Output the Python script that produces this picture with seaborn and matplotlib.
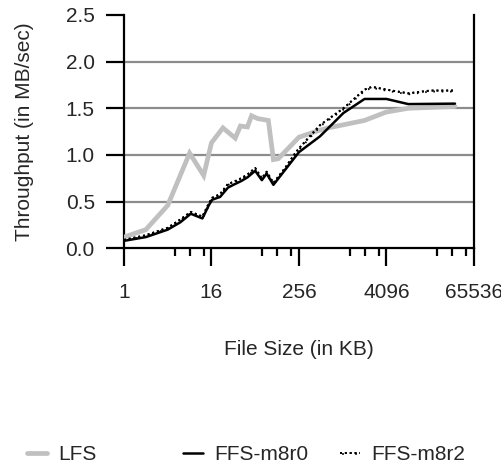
import matplotlib
matplotlib.use("Agg")
import matplotlib.pyplot as plt
import matplotlib.patheffects as pe
from matplotlib.lines import Line2D
import numpy as np
import pandas as pd
import seaborn as sns

# File sizes (KB) and measured throughput (MB/sec)
lfs_size = [1, 2, 4, 8, 12.5, 16, 23, 34, 40, 50, 57, 69, 97, 114, 133, 256,
            470, 650, 2048, 4096, 8192, 36000]
lfs_tput = [0.12, 0.20, 0.46, 1.02, 0.78, 1.13, 1.29, 1.18, 1.31, 1.30, 1.42,
            1.39, 1.37, 0.95, 0.96, 1.19, 1.26, 1.29, 1.37, 1.46, 1.50, 1.52]

m8r0_size = [1, 2, 4, 6, 8.3, 12, 14.7, 16.3, 21, 27, 32, 41, 50, 64, 79, 92,
             114, 165, 228, 256, 500, 1050, 2048, 4096, 8192, 36000]
m8r0_tput = [0.08, 0.12, 0.20, 0.28, 0.37, 0.32, 0.46, 0.52, 0.55, 0.65, 0.68,
             0.72, 0.76, 0.83, 0.73, 0.80, 0.68, 0.84, 0.98, 1.03, 1.20, 1.45,
             1.60, 1.60, 1.545, 1.55]

m8r2_size = [1, 2, 4, 6, 8.3, 12, 14.7, 16.3, 21, 27, 32, 41, 50, 64, 79, 92,
             114, 165, 228, 256, 500, 1050, 2048, 2600, 4096, 8192, 16384, 36000]
m8r2_tput = [0.09, 0.14, 0.22, 0.31, 0.39, 0.34, 0.48, 0.54, 0.58, 0.69, 0.71,
             0.75, 0.79, 0.86, 0.75, 0.82, 0.70, 0.86, 1.02, 1.07, 1.32, 1.50,
             1.70, 1.73, 1.70, 1.66, 1.69, 1.69]

x_major = [1, 16, 256, 4096, 65536]
x_minor_mult = [5, 8, 12.5]
y_ticks = [0.0, 0.5, 1.0, 1.5, 2.0, 2.5]

FS = 15

sns.set_theme(style="white")
plt.rcParams["font.family"] = ["Liberation Sans", "DejaVu Sans"]
plt.rcParams["font.size"] = FS

fig = plt.figure(figsize=(5.02, 4.69), dpi=100)
ax = fig.add_axes([0.247, 0.4706, 0.697, 0.4975])

gray = "#c0c0c0"


def ticked(spacing):
    return [pe.withTickedStroke(angle=-90, spacing=spacing, length=0.45,
                                linewidth=1.1),
            pe.Normal()]


sns.lineplot(x=lfs_size, y=lfs_tput, ax=ax, color=gray, lw=3.4,
             solid_joinstyle="miter", zorder=3)
sns.lineplot(x=m8r0_size, y=m8r0_tput, ax=ax, color="black", lw=1.8, zorder=4)
sns.lineplot(x=m8r2_size, y=m8r2_tput, ax=ax, color="black", lw=1.4,
             linestyle=(0, (1, 1.5)), zorder=5, path_effects=ticked(6))

ax.set_xscale("log", base=2)
ax.set_xlim(1, 65536)
ax.set_ylim(0, 2.5)
ax.set_xticks(x_major)
ax.set_xticklabels([str(v) for v in x_major])
minor = [m * k for m in x_major[:-1] for k in x_minor_mult]
ax.set_xticks(minor, minor=True)
ax.set_xticklabels([], minor=True)
ax.set_yticks(y_ticks)
ax.set_yticklabels([f"{v:.1f}" for v in y_ticks])

ax.grid(axis="y", color="#8c8c8c", lw=1.6, zorder=1)
ax.set_axisbelow(True)
gls = ax.yaxis.get_gridlines()
gls[-1].set_visible(False)
gls[0].set_visible(False)

for side in ["left", "bottom", "right"]:
    ax.spines[side].set_visible(True)
    ax.spines[side].set_color("black")
    ax.spines[side].set_linewidth(1.6)
ax.spines["top"].set_visible(False)

ax.tick_params(axis="y", which="major", direction="out", length=13, width=1.6,
               color="black", pad=8, labelsize=FS, left=True)
ax.tick_params(axis="x", which="major", direction="out", length=13, width=1.6,
               color="black", pad=12, labelsize=FS, bottom=True)
ax.tick_params(axis="x", which="minor", direction="out", length=6, width=1.6,
               color="black", bottom=True)

ax.set_xlabel("File Size (in KB)", fontsize=FS, labelpad=27)
ax.set_ylabel("Throughput (in MB/sec)", fontsize=FS, labelpad=23)

# Legend entries placed along the bottom of the figure
handles = [
    (Line2D([], [], color=gray, lw=3.4), "LFS", 0.054),
    (Line2D([], [], color="black", lw=1.8), "FFS-m8r0", 0.365),
    (Line2D([], [], color="black", lw=1.4, linestyle=(0, (1, 1.5)),
            path_effects=ticked(5)), "FFS-m8r2", 0.677),
]
for h, lab, xpos in handles:
    fig.legend(handles=[h], labels=[lab], loc="center left",
               bbox_to_anchor=(xpos, 0.03), frameon=False, fontsize=FS,
               handlelength=0.95, handletextpad=0.55, borderpad=0,
               borderaxespad=0)

fig.savefig("out.png", dpi=100)
